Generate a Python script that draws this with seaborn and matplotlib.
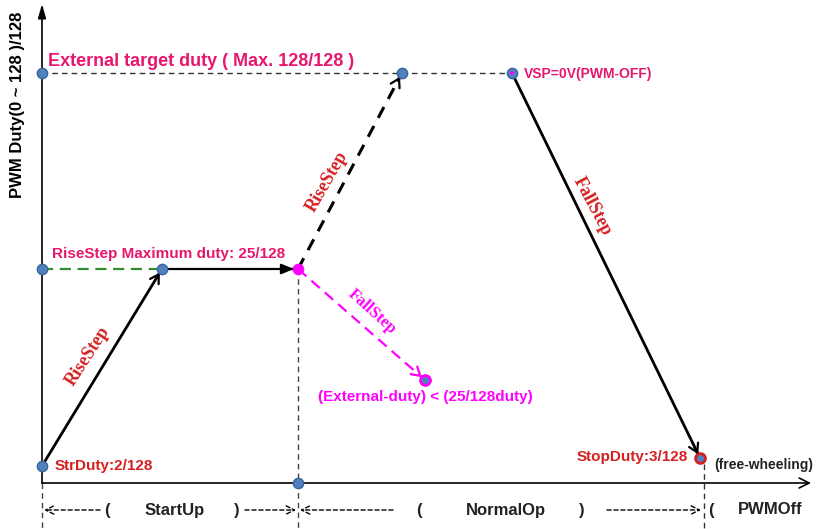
import pandas as pd
import matplotlib.pyplot as plt
import seaborn as sns

# Sketch coordinates (pixels of the diagram, y grows downwards)
X0, Y0 = 42, 483            # origin of the duty/time axes
T_MAXDUTY, T_RISE2, T_VSP, T_STOP, T_EXT = 162, 298, 402, 512, 700
Y_MAX, Y_25, Y_STR, Y_STOP, Y_EXT = 73, 269, 466, 458, 380
X_EXTEND = 425

# key points of the duty profile
pts_x = [X0, X0, X0, T_MAXDUTY, T_RISE2, T_VSP, T_STOP, X_EXTEND, T_RISE2]
pts_y = [Y_MAX, Y_25, Y_STR, Y_25, Y_25, Y_MAX, Y_MAX, Y_EXT, Y0]
pts_kind = ["blue", "blue", "blue", "blue", "magenta", "blue", "vsp", "fext", "blue"]

# phase labels under the time axis
phase_names = ["StartUp", "NormalOp", "PWMOff"]
phase_x = [175, 506, 770]
phase_open = [107, 419, 711]
phase_close = [237, 582, None]

BLUE = "#4f81bd"
BLUE_EDGE = "#3b659a"
PINK = "#e6176d"
RED = "#d42020"
MAGENTA = "#ff00ff"
GREEN = "#2f8f2f"

sns.set_theme(style="white")
plt.rcParams["font.family"] = ["Liberation Sans", "DejaVu Sans"]

fig = plt.figure(figsize=(8.31, 5.29), dpi=100)
ax = fig.add_axes([0, 0, 1, 1])
ax.set_xlim(0, 831)
ax.set_ylim(529, 0)
ax.axis("off")


def seg(xs, ys, **kw):
    df = pd.DataFrame({"x": xs, "y": ys})
    sns.lineplot(data=df, x="x", y="y", sort=False, estimator=None, ax=ax, legend=False, **kw)


def head(x0, y0, x1, y1, color="black", lw=1.6, style="->,head_length=0.5,head_width=0.3"):
    # short arrow placed at the end of a segment, only the head shows
    fx = x1 - (x1 - x0) * 0.04
    fy = y1 - (y1 - y0) * 0.04
    ax.annotate("", xy=(x1, y1), xytext=(fx, fy),
                arrowprops=dict(arrowstyle=style, color=color, lw=lw, shrinkA=0, shrinkB=3))


# axes
ax.annotate("", xy=(X0, 4), xytext=(X0, Y0),
            arrowprops=dict(arrowstyle="-|>,head_length=0.7,head_width=0.2", color="black", lw=1.2,
                            shrinkA=0, shrinkB=0))
ax.annotate("", xy=(811, Y0), xytext=(X0, Y0),
            arrowprops=dict(arrowstyle="->,head_length=0.6,head_width=0.3", color="black", lw=1.2,
                            shrinkA=0, shrinkB=0))

# guide lines
seg([X0, T_STOP], [Y_MAX, Y_MAX], color="#333333", lw=1.0, linestyle=(0, (4, 3)))
seg([X0, T_MAXDUTY], [Y_25, Y_25], color=GREEN, lw=1.6, linestyle=(0, (5, 3)))
seg([T_RISE2, T_RISE2], [Y_25, 529], color="#444444", lw=1.0, linestyle=(0, (4, 3)))
seg([X0, X0], [Y0, 529], color="#444444", lw=1.0, linestyle=(0, (4, 3)))
seg([704, 704], [Y_STOP + 6, 529], color="#333333", lw=1.0, linestyle=(0, (4, 3)))

# duty profile
seg([X0, T_MAXDUTY], [Y_STR, Y_25], color="black", lw=2.0)
head(X0, Y_STR, T_MAXDUTY, Y_25)
seg([T_MAXDUTY, T_RISE2], [Y_25, Y_25], color="black", lw=1.6)
head(T_MAXDUTY, Y_25, T_RISE2, Y_25, style="-|>,head_length=0.6,head_width=0.25")
seg([T_RISE2, T_VSP], [Y_25, Y_MAX], color="black", lw=2.2, linestyle=(0, (4, 3)))
head(T_RISE2, Y_25, T_VSP, Y_MAX)
seg([T_STOP, T_EXT], [Y_MAX, Y_STOP], color="black", lw=2.0)
head(T_STOP, Y_MAX, T_EXT, Y_STOP)
seg([T_RISE2, X_EXTEND], [Y_25, Y_EXT], color=MAGENTA, lw=1.6, linestyle=(0, (5, 3)))
head(T_RISE2, Y_25, X_EXTEND, Y_EXT, color=MAGENTA)

# points
pts = pd.DataFrame({"x": pts_x, "y": pts_y, "kind": pts_kind})
blue = pts[pts["kind"] != "magenta"]
sns.scatterplot(data=blue, x="x", y="y", color=BLUE, edgecolor=BLUE_EDGE, linewidth=1,
                s=55, ax=ax, zorder=5, legend=False)
sns.scatterplot(data=pts[pts["kind"] == "magenta"], x="x", y="y", color=MAGENTA,
                edgecolor=MAGENTA, s=60, ax=ax, zorder=5, legend=False)
sns.scatterplot(data=pts[pts["kind"] == "vsp"], x="x", y="y", color=MAGENTA,
                edgecolor="none", s=8, ax=ax, zorder=6, legend=False)
sns.scatterplot(data=pts[pts["kind"] == "fext"], x="x", y="y", color=BLUE,
                edgecolor=MAGENTA, linewidth=2, s=50, ax=ax, zorder=6, legend=False)
sns.scatterplot(x=[T_EXT], y=[Y_STOP], color=BLUE, edgecolor=RED, linewidth=2,
                s=50, ax=ax, zorder=6, legend=False)

# labels
ax.text(18, 105, "PWM Duty(0 ~ 128 )/128", rotation=90, ha="center", va="center",
        fontsize=12, fontweight="bold", color="black")
ax.text(48, 61, "External target duty ( Max. 128/128 )", fontsize=13, fontweight="bold",
        color=PINK, va="center")
ax.text(524, 74, "VSP=0V(PWM-OFF)", fontsize=10, fontweight="bold", color=PINK, va="center")
ax.text(52, 254, "RiseStep Maximum duty: 25/128", fontsize=11, fontweight="bold",
        color=PINK, va="center")
ax.text(55, 466, "StrDuty:2/128", fontsize=11, fontweight="bold", color=RED, va="center")
ax.text(688, 457, "StopDuty:3/128", fontsize=11, fontweight="bold", color=RED,
        va="center", ha="right")
ax.text(714, 465, "(free-wheeling)", fontsize=10, fontweight="bold", color="#222222", va="center")
ax.text(318, 397, "(External-duty) < (25/128duty)", fontsize=11, fontweight="bold",
        color=MAGENTA, va="center")

serif = ["Liberation Serif", "DejaVu Serif"]
ax.text(88, 356, "RiseStep", rotation=57, family=serif, fontsize=13, fontweight="bold",
        color=RED, ha="center", va="center", rotation_mode="anchor")
ax.text(327, 182, "RiseStep", rotation=60, family=serif, fontsize=13, fontweight="bold",
        color=RED, ha="center", va="center", rotation_mode="anchor")
ax.text(592, 206, "FallStep", rotation=-62, family=serif, fontsize=13, fontweight="bold",
        color=RED, ha="center", va="center", rotation_mode="anchor")
ax.text(372, 312, "FallStep", rotation=-42, family=serif, fontsize=12, fontweight="bold",
        color=MAGENTA, ha="center", va="center", rotation_mode="anchor")

# phase row
Y_PH = 510
ph_arrow = dict(arrowstyle="->,head_length=0.5,head_width=0.25", color="black", lw=1.0,
                linestyle=(0, (3, 2)), shrinkA=0, shrinkB=0)
ax.annotate("", xy=(X0 + 2, Y_PH), xytext=(100, Y_PH), arrowprops=ph_arrow)
ax.annotate("", xy=(T_RISE2 - 2, Y_PH), xytext=(245, Y_PH), arrowprops=ph_arrow)
ax.annotate("", xy=(T_RISE2 + 2, Y_PH), xytext=(393, Y_PH), arrowprops=ph_arrow)
ax.annotate("", xy=(701, Y_PH), xytext=(607, Y_PH), arrowprops=ph_arrow)
for name, xc, xo, xcl in zip(phase_names, phase_x, phase_open, phase_close):
    ax.text(xc, Y_PH, name, fontsize=12, fontweight="bold", color="#222222",
            ha="center", va="center")
    ax.text(xo, Y_PH, "(", fontsize=12, fontweight="bold", color="#222222",
            ha="center", va="center")
    if xcl is not None:
        ax.text(xcl, Y_PH, ")", fontsize=12, fontweight="bold", color="#222222",
                ha="center", va="center")

fig.savefig("out.png", dpi=100)
